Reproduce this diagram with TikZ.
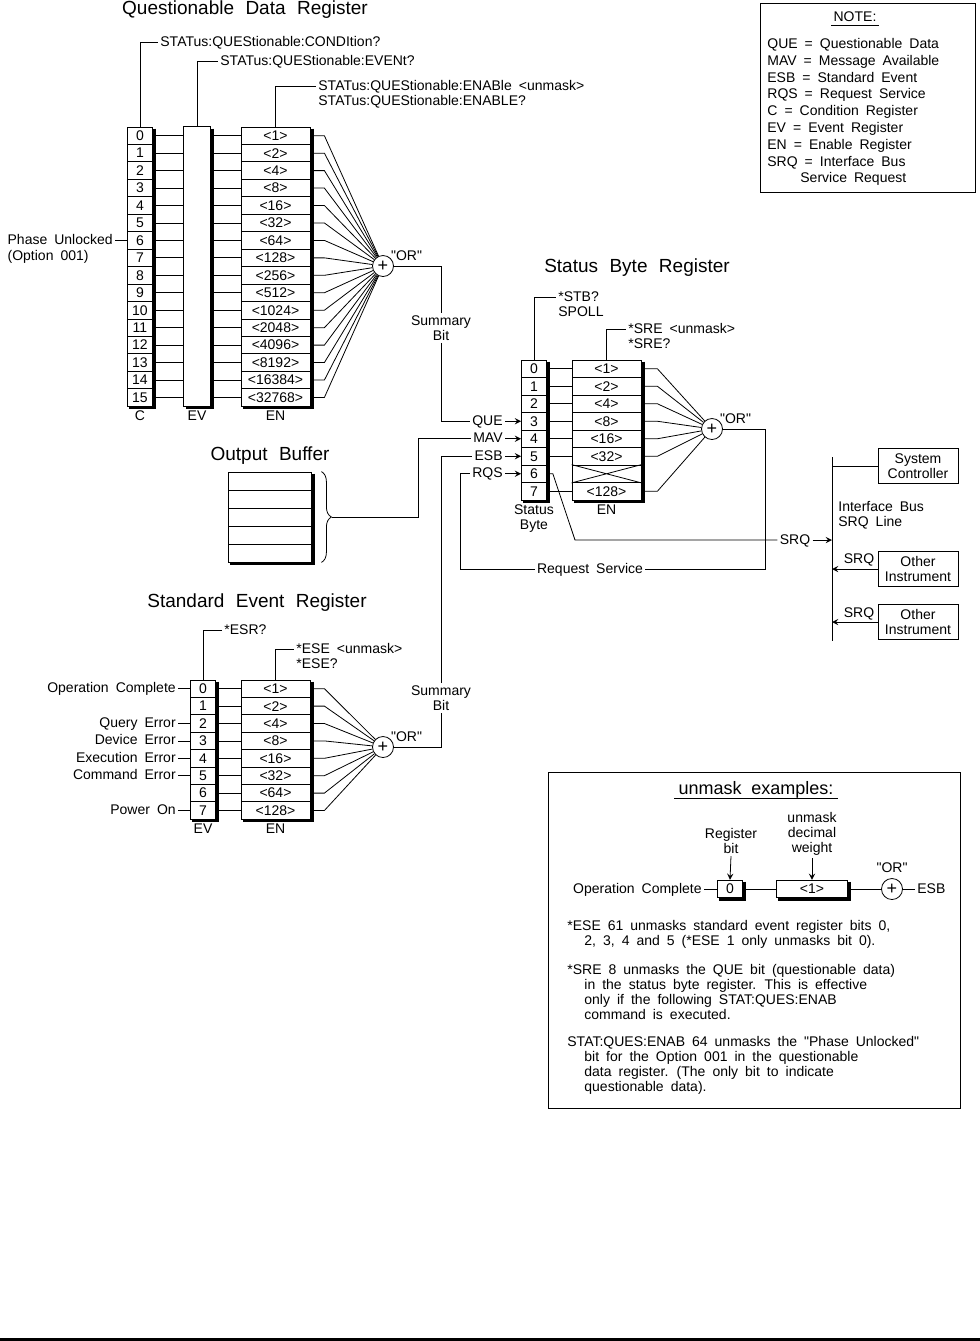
\documentclass[tikz,border=0pt]{standalone}
\usepackage{fontspec}
\setmainfont{Liberation Sans}
\usepackage{tikz}
\usetikzlibrary{arrows, positioning, shapes, decorations.pathreplacing}

\newcommand{\txt}{\fontsize{7}{7.5}\selectfont\spaceskip=0.5em\relax}
\newcommand{\notetxt}{\fontsize{7}{8.4}\selectfont\spaceskip=0.5em\relax}
\newcommand{\ttltxt}{\fontsize{9.5}{11}\selectfont\spaceskip=0.6em\relax}
\newcommand{\extxt}{\fontsize{9}{10}\selectfont\spaceskip=0.55em\relax}
\newcommand{\ortxt}{\fontsize{9}{9}\selectfont}
\newcommand{\orq}{\textquotedbl OR\textquotedbl}
\newcommand{\regshadow}[2]{%
  \draw[line width=1.3pt] ([xshift=0.9pt,yshift=-1pt]#1.north east) -- ([xshift=0.9pt,yshift=-0.7pt]#2.south east) -- ([xshift=1pt,yshift=-0.7pt]#2.south west);}

\begin{document}
\begin{tikzpicture}[x=0.5pt, y=-0.5pt, >=stealth, node distance=1pt,
        every node/.style={font=\txt},
        cell/.style={rectangle, draw, inner sep=0pt, minimum height=8.72pt, minimum width=12.5pt},
        wcell/.style={cell, minimum width=34.5pt},
        lbl/.style={inner xsep=1pt, inner ysep=0.25pt, text height=5.5pt, text depth=1.5pt},
        mlbl/.style={inner sep=1pt, align=center},
        ttl/.style={inner sep=1pt, font=\ttltxt},
        orgate/.style={circle, draw, minimum size=10.5pt, inner sep=0pt, font=\ortxt},
        box/.style={rectangle, draw, minimum width=40pt, minimum height=17.5pt, inner sep=1pt, align=center},
        para/.style={anchor=north west, align=left, inner sep=0pt}
        ]
        \useasboundingbox (0,0) rectangle (980,1341);

        % Questionable Data Register
        \node[ttl] (qdrttl) at (245,10) {Questionable Data Register};
        \node[orgate] (qor) at (383,266) {+};
        \node[lbl, anchor=south west] (qorlbl) at ([xshift=-1pt,yshift=-3pt]qor.north east) {\orq};
        \foreach \i/\w in {0/1,1/2,2/4,3/8,4/16,5/32,6/64,7/128,8/256,9/512,10/1024,11/2048,12/4096,13/8192,14/16384,15/32768} {
            \node[cell] (qc\i) at (140,{135.7+17.45*\i}) {\i};
            \node[cell, draw=none, minimum width=13pt] (qv\i) at (197,{135.7+17.45*\i}) {};
            \node[wcell] (qe\i) at (275.5,{135.7+17.45*\i}) {<\w>};
            \draw (qc\i.east) -- (qv\i.west);
            \draw (qv\i.east) -- (qe\i.west);
            \draw (qe\i.east) -- ++(14,0) -- (qor);
        }
        \draw (qv0.north west) rectangle (qv15.south east);
        \regshadow{qc0}{qc15}
        \regshadow{qv0}{qv15}
        \regshadow{qe0}{qe15}
        \node[lbl, below=1pt of qc15] (qclbl) {C};
        \node[lbl, below=1pt of qv15] (qvlbl) {EV};
        \node[lbl, below=1pt of qe15] (qelbl) {EN};

        \node[lbl, anchor=west] (qcond) at (158,42) {STATus:QUEStionable:CONDItion?};
        \node[lbl, anchor=west] (qevt) at (218,61) {STATus:QUEStionable:EVENt?};
        \node[lbl, anchor=west] (qenab) at (316,86) {STATus:QUEStionable:ENABle <unmask>};
        \node[lbl, anchor=north west] (qenabq) at (qenab.south west) {STATus:QUEStionable:ENABLE?};
        \draw (qc0.north) |- (qcond.west);
        \draw (qv0.north) |- (qevt.west);
        \draw (qe0.north) |- (qenab.west);

        \node[lbl, anchor=east] (phase) at ([xshift=-6pt]qc6.west) {Phase Unlocked};
        \node[lbl, anchor=north west] (phaseopt) at (phase.south west) {(Option 001)};
        \draw (phase.east) -- (qc6.west);

        \node[mlbl] (qsum) at (441,328) {Summary\\Bit};

        % Status Byte Register
        \node[ttl] (sbrttl) at (637,268) {Status Byte Register};
        \node[orgate] (sor) at (712,429) {+};
        \node[lbl, anchor=south west] (sorlbl) at ([xshift=-1pt,yshift=-3pt]sor.north east) {\orq};
        \foreach \i in {0,...,7} {
            \node[cell] (sb\i) at (534,{368.75+17.5*\i}) {\i};
        }
        \foreach \i/\w in {0/1,1/2,2/4,3/8,4/16,5/32,7/128} {
            \node[wcell] (se\i) at (606.5,{368.75+17.5*\i}) {<\w>};
            \draw (sb\i.east) -- (se\i.west);
            \draw (se\i.east) -- ++(16,0) -- (sor);
        }
        \node[wcell] (se6) at (606.5,{368.75+17.5*6}) {};
        \draw (se6.north west) -- (se6.south east) (se6.south west) -- (se6.north east);
        \regshadow{sb0}{sb7}
        \regshadow{se0}{se7}
        \node[mlbl, below=1pt of sb7] (sblbl) {Status\\Byte};
        \node[lbl, below=1pt of se7] (selbl) {EN};

        \node[lbl, anchor=west] (stb) at (556,297) {*STB?};
        \node[lbl, anchor=north west] (spoll) at (stb.south west) {SPOLL};
        \node[lbl, anchor=west] (sre) at (626,329) {*SRE <unmask>};
        \node[lbl, anchor=north west] (sreq) at (sre.south west) {*SRE?};
        \draw (sb0.north) |- (stb.west);
        \draw (se0.north) |- (sre.west);

        \node[lbl, anchor=east] (que) at (505,421.25) {QUE};
        \node[lbl, anchor=east] (mav) at (505,438.75) {MAV};
        \node[lbl, anchor=east] (esb) at (505,456.25) {ESB};
        \node[lbl, anchor=east] (rqs) at (505,473.75) {RQS};
        \draw[->] (que.east) -- (sb3.west);
        \draw[->] (mav.east) -- (sb4.west);
        \draw[->] (esb.east) -- (sb5.west);
        \draw[->] (rqs.east) -- (sb6.west);

        \draw (qor.east) -| (qsum.north);
        \draw (qsum.south) |- (que.west);

        % Output Buffer
        \node[ttl] (obttl) at (270,456) {Output Buffer};
        \foreach \i in {0,...,4} {
            \node[cell, minimum width=41.5pt, minimum height=9pt] (ob\i) at (269.5,{481+18*\i}) {};
        }
        \regshadow{ob0}{ob4}
        \draw[decorate, decoration={brace, amplitude=5pt}] ([xshift=5pt]ob0.north east) -- ([xshift=5pt]ob4.south east);
        \coordinate (obtip) at ([xshift=10.5pt]ob2.east);
        \draw (obtip) -- ++(86,0) |- (mav.west);

        % Request service and SRQ
        \node[lbl] (reqsvc) at (590,569) {Request Service};
        \coordinate (rqsturn) at (460,569);
        \draw (sor.east) -- ++(42,0) |- (reqsvc.east);
        \draw (reqsvc.west) -- (rqsturn) |- (rqs.west);

        \node[lbl] (srqin) at (795,540) {SRQ};
        \coordinate (srqbend) at (575,540);
        \draw (sb6.east) -- ++(6,0) -- (srqbend) -- (srqin.west);

        \coordinate (bustop) at (832,457);
        \coordinate (busbot) at (832,641);
        \draw (bustop) -- (busbot);
        \draw[->] (srqin.east) -- (srqin.east -| bustop);
        \node[box] (sysctl) at (918,466) {System\\Controller};
        \node[box] (oth1) at (918,569) {Other\\Instrument};
        \node[box] (oth2) at (918,622) {Other\\Instrument};
        \draw (sysctl.west) -- (sysctl.west -| bustop);
        \draw[->] (oth1.west) -- (oth1.west -| bustop);
        \draw[->] (oth2.west) -- (oth2.west -| bustop);
        \node[lbl] (oth1srq) at (859,559) {SRQ};
        \node[lbl] (oth2srq) at (859,613) {SRQ};
        \node[mlbl, anchor=north west, align=left] (buslbl) at (836,499) {Interface Bus\\SRQ Line};

        % Standard Event Register
        \node[ttl] (serttl) at (257,603) {Standard Event Register};
        \node[orgate] (eor) at (383,747) {+};
        \node[lbl, anchor=south west] (eorlbl) at ([xshift=-1pt,yshift=-3pt]eor.north east) {\orq};
        \foreach \i/\w in {0/1,1/2,2/4,3/8,4/16,5/32,6/64,7/128} {
            \node[cell] (ev\i) at (203,{688.7+17.4*\i}) {\i};
            \node[wcell] (ee\i) at (275.5,{688.7+17.4*\i}) {<\w>};
            \draw (ev\i.east) -- (ee\i.west);
            \draw (ee\i.east) -- ++(14,0) -- (eor);
        }
        \regshadow{ev0}{ev7}
        \regshadow{ee0}{ee7}
        \node[lbl, below=1pt of ev7] (evlbl) {EV};
        \node[lbl, below=1pt of ee7] (eelbl) {EN};
        \foreach \i/\t in {0/Operation Complete,2/Query Error,3/Device Error,4/Execution Error,5/Command Error,7/Power On} {
            \node[lbl, anchor=east] (evl\i) at ([xshift=-6pt]ev\i.west) {\t};
            \draw (evl\i.east) -- (ev\i.west);
        }
        \node[lbl, anchor=west] (esr) at (222,630) {*ESR?};
        \node[lbl, anchor=west] (ese) at (294,649) {*ESE <unmask>};
        \node[lbl, anchor=north west] (eseq) at (ese.south west) {*ESE?};
        \draw (ev0.north) |- (esr.west);
        \draw (ee0.north) |- (ese.west);

        \node[mlbl] (esum) at (441,698) {Summary\\Bit};
        \draw (eor.east) -| (esum.south);
        \draw (esum.north) |- (esb.west);

        % Note
        \draw (760,3) rectangle (975,192);
        \node[lbl] (notettl) at (855,17) {NOTE:};
        \draw (notettl.south west) -- (notettl.south east);
        \node[para, font=\notetxt] (notetxt) at (767,38) {QUE = Questionable Data\\MAV = Message Available\\ESB = Standard Event\\RQS = Request Service\\C = Condition Register\\EV = Event Register\\EN = Enable Register\\SRQ = Interface Bus\\\hspace*{16.5pt}Service Request};

        % unmask examples
        \draw (548,772) rectangle (960,1108);
        \node[lbl, font=\extxt] (unttl) at (756,790) {unmask examples:};
        \draw ([xshift=-1pt]unttl.south west) -- ([xshift=1pt]unttl.south east);
        \node[cell, minimum width=12.5pt] (ex0) at (730,889) {0};
        \node[cell, minimum width=35.5pt] (exw) at (812,889) {<1>};
        \node[orgate] (exor) at (892,889) {+};
        \regshadow{ex0}{ex0}
        \regshadow{exw}{exw}
        \node[lbl, anchor=east] (exop) at (704,889) {Operation Complete};
        \node[lbl, anchor=west] (exesb) at (915,889) {ESB};
        \node[lbl, anchor=south] (exorlbl) at ([yshift=1pt]exor.north) {\orq};
        \node[mlbl] (exbit) at (731,841) {Register\\bit};
        \node[mlbl] (exwt) at (812,834) {unmask\\decimal\\weight};
        \draw (exop.east) -- (ex0.west);
        \draw (ex0.east) -- (exw.west);
        \draw (exw.east) -- (exor);
        \draw (exor) -- (exesb.west);
        \draw[->] (exbit.south) -- (ex0.north);
        \draw[->] (exwt.south) -- (exw.north);

        \node[para] (expl1) at (567,920) {*ESE 61 unmasks standard event register bits 0,\\\hspace*{8.5pt}2, 3, 4 and 5 (*ESE 1 only unmasks bit 0).};
        \node[para] (expl2) at (567,964) {*SRE 8 unmasks the QUE bit (questionable data)\\\hspace*{8.5pt}in the status byte register. This is effective\\\hspace*{8.5pt}only if the following STAT:QUES:ENAB\\\hspace*{8.5pt}command is executed.};
        \node[para] (expl3) at (567,1036) {STAT:QUES:ENAB 64 unmasks the \textquotedbl Phase Unlocked\textquotedbl\\\hspace*{8.5pt}bit for the Option 001 in the questionable\\\hspace*{8.5pt}data register. (The only bit to indicate\\\hspace*{8.5pt}questionable data).};

        % bottom rule
        \draw[line width=1.5pt] (0,1339) -- (980,1339);
\end{tikzpicture}
\end{document}
